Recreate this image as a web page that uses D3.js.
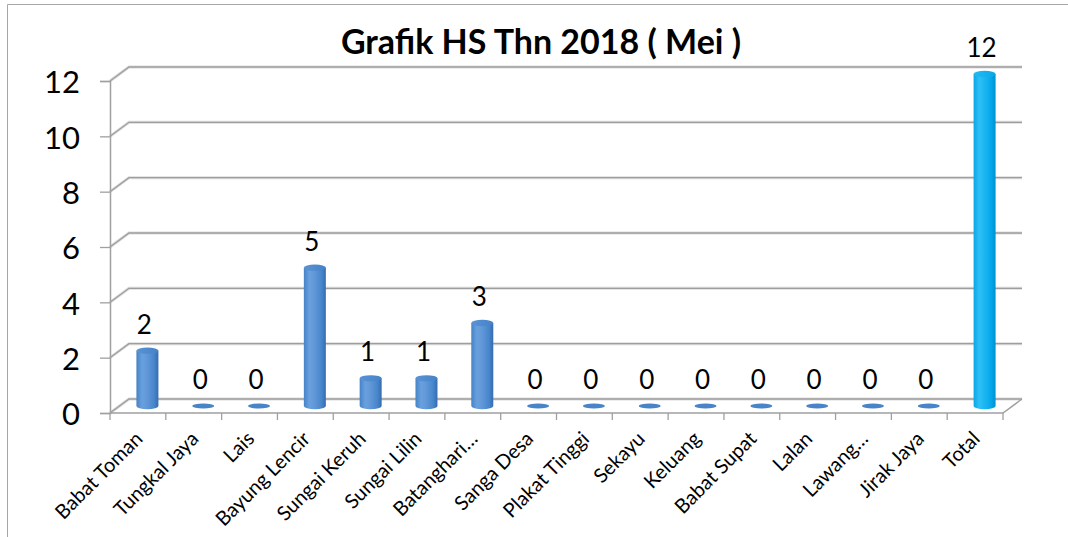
<!DOCTYPE html>
<html>
<head>
<meta charset="utf-8">
<script src="https://cdnjs.cloudflare.com/ajax/libs/d3/7.8.5/d3.min.js"></script>
<style>
  body { margin: 0; background: #fff; }
  text { font-family: Lato, "Open Sans", sans-serif; fill: #000; }
</style>
</head>
<body>
<div id="chart"></div>
<script>
// data
var categories = ['Babat Toman', 'Tungkal Jaya', 'Lais', 'Bayung Lencir', 'Sungai Keruh',
  'Sungai Lilin', 'Batanghari\u2026', 'Sanga Desa', 'Plakat Tinggi', 'Sekayu', 'Keluang',
  'Babat Supat', 'Lalan', 'Lawang\u2026', 'Jirak Jaya', 'Total'];
var values = [2, 0, 0, 5, 1, 1, 3, 0, 0, 0, 0, 0, 0, 0, 0, 12];
var yTicks = [0, 2, 4, 6, 8, 10, 12];
var title = 'Grafik HS Thn 2018 ( Mei )';

var width = 1068,
    height = 537,
    depthX = 19,   // 3d depth offset of the back wall
    depthY = -14,
    barW = 22;

var svg = d3.select('#chart').append('svg')
  .attr('width', width)
  .attr('height', height);

var defs = svg.append('defs');

function cylGradient(id, stops) {
  var g = defs.append('linearGradient').attr('id', id)
    .attr('x1', '0%').attr('x2', '100%').attr('y1', '0%').attr('y2', '0%');
  stops.forEach(function(s) {
    g.append('stop').attr('offset', s[0]).attr('stop-color', s[1]);
  });
}
cylGradient('blueBody', [['0%', '#4682c6'], ['25%', '#68a0de'], ['45%', '#6499d8'], ['80%', '#4786cd'], ['100%', '#366bae']]);
cylGradient('blueTop', [['0%', '#5893d5'], ['100%', '#4682c8']]);
cylGradient('cyanBody', [['0%', '#0aa6e6'], ['25%', '#2ec0f5'], ['50%', '#1cb6f1'], ['80%', '#03a8ea'], ['100%', '#0090d0']]);
cylGradient('cyanTop', [['0%', '#22bbf2'], ['100%', '#06a8e8']]);

// outer chart border (only left and top inside the crop)
svg.append('path')
  .attr('d', 'M7.5,' + height + 'V4.5H' + width)
  .attr('fill', 'none')
  .attr('stroke', '#a6a6a6')
  .attr('stroke-width', 1);

var x = d3.scaleBand()
  .domain(categories)
  .range([110, 1003]);

var y = d3.scaleLinear()
  .domain([0, 12])
  .range([413, 81]);

var x0 = x.range()[0], x1 = x.range()[1];

// back wall gridlines + left side wall diagonals
var grid = svg.append('g').attr('class', 'grid');
yTicks.forEach(function(t) {
  var yf = y(t);
  var d = 'M' + x0 + ',' + yf + 'L' + (x0 + depthX) + ',' + (yf + depthY) + 'H' + (x1 + depthX);
  grid.append('path').attr('d', d)
    .attr('fill', 'none').attr('stroke', '#dcdcdc').attr('stroke-width', 3);
  grid.append('path').attr('d', d)
    .attr('fill', 'none').attr('stroke', '#9e9e9e').attr('stroke-width', 1.3);
});

// floor: front edge and right side
grid.append('path')
  .attr('d', 'M' + x0 + ',' + y(0) + 'H' + x1 + 'L' + (x1 + depthX) + ',' + (y(0) + depthY))
  .attr('fill', 'none')
  .attr('stroke', '#a0a0a0')
  .attr('stroke-width', 1.5);

// value axis
var yAxis = d3.axisLeft(y).tickValues(yTicks).tickSize(10).tickPadding(20);
var yg = svg.append('g')
  .attr('transform', 'translate(' + x0 + ',0)')
  .call(yAxis);
yg.select('.domain').attr('stroke', '#a0a0a0').attr('stroke-width', 1.5);
yg.selectAll('.tick line').attr('stroke', '#a0a0a0').attr('stroke-width', 1.3);
yg.selectAll('.tick text')
  .attr('dy', '0.38em')
  .style('font-size', '31px')
  .style('font-family', 'Lato, sans-serif')
  .attr('fill', '#000');

// category axis ticks at band edges
var xg = svg.append('g');
var edges = categories.map(function(c) { return x(c); }).concat([x1]);
xg.selectAll('line.xtick')
  .data(edges)
  .enter().append('line')
  .attr('class', 'xtick')
  .attr('x1', function(d) { return d; })
  .attr('x2', function(d) { return d; })
  .attr('y1', y(0))
  .attr('y2', y(0) + 7)
  .attr('stroke', '#a0a0a0')
  .attr('stroke-width', 1.3);

xg.selectAll('text.cat')
  .data(categories)
  .enter().append('text')
  .attr('class', 'cat')
  .attr('text-anchor', 'end')
  .attr('transform', function(d) {
    return 'translate(' + (x(d) + x.bandwidth() / 2 + 6) + ',' + (y(0) + 27) + ') rotate(-45)';
  })
  .style('font-size', '20px')
  .text(function(d) { return d; });

// cylinders, placed halfway into the depth
var bars = svg.append('g').selectAll('g.bar')
  .data(values)
  .enter().append('g')
  .attr('class', 'bar');

function cx(i) { return x(categories[i]) + x.bandwidth() / 2 + depthX / 2; }
function yb(v) { return y(v) + depthY / 2; }
var ry = 3.2;

bars.each(function(v, i) {
  var g = d3.select(this);
  var isTotal = categories[i] === 'Total';
  var body = isTotal ? 'url(#cyanBody)' : 'url(#blueBody)';
  var top = isTotal ? 'url(#cyanTop)' : 'url(#blueTop)';
  var c = cx(i), yTop = yb(v), yBot = yb(0);
  if (v > 0) {
    g.append('path')
      .attr('d', 'M' + (c - barW / 2) + ',' + yTop +
        'V' + yBot +
        'A' + (barW / 2) + ',' + ry + ' 0 0 0 ' + (c + barW / 2) + ',' + yBot +
        'V' + yTop + 'Z')
      .attr('fill', body);
    g.append('ellipse')
      .attr('cx', c).attr('cy', yTop)
      .attr('rx', barW / 2).attr('ry', ry)
      .attr('fill', top);
  } else {
    g.append('ellipse')
      .attr('cx', c).attr('cy', yBot)
      .attr('rx', barW / 2).attr('ry', 2.6)
      .attr('fill', '#4884c7');
  }
});

// data labels
svg.append('g').selectAll('text.val')
  .data(values)
  .enter().append('text')
  .attr('class', 'val')
  .attr('text-anchor', 'middle')
  .attr('x', function(d, i) { return cx(i) - 3; })
  .attr('y', function(d) { return yb(d) - 17; })
  .style('font-size', '26px')
  .text(function(d) { return d; });

// title
svg.append('text')
  .attr('x', 541)
  .attr('y', 54)
  .attr('text-anchor', 'middle')
  .style('font-size', '34px')
  .style('font-weight', 'bold')
  .text(title);
</script>
</body>
</html>
